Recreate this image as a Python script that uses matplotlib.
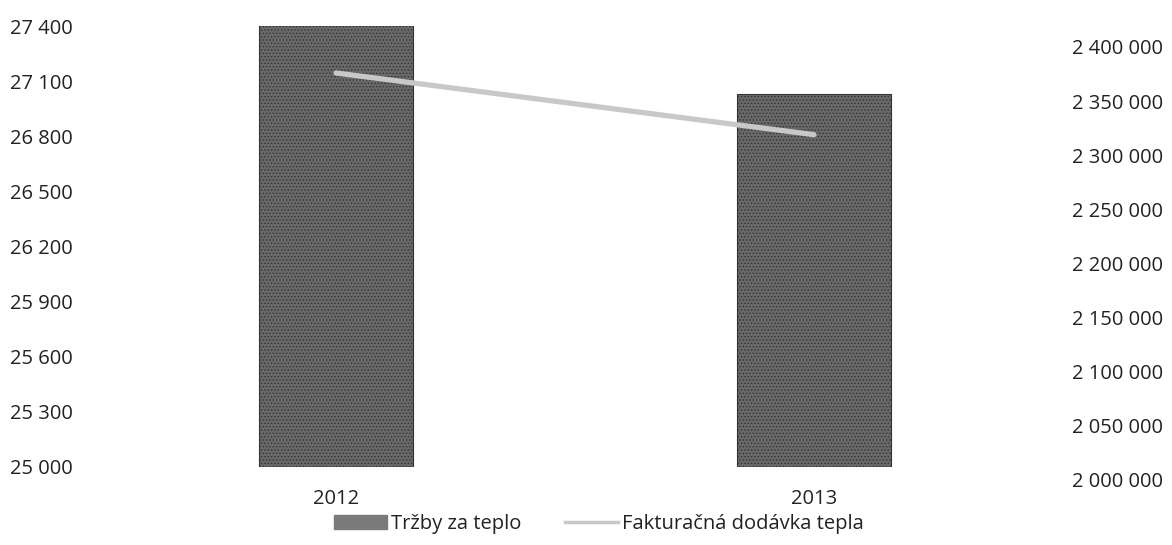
import matplotlib
matplotlib.use("Agg")
import matplotlib.pyplot as plt
from matplotlib.ticker import FuncFormatter
from matplotlib.lines import Line2D
from matplotlib.patches import Patch

years = ["2012", "2013"]
trzby = [27405, 27030]                 # Tržby za teplo (left axis)
dodavka = [2376000, 2319000]           # Fakturačná dodávka tepla (right axis)
left_ticks = [25000, 25300, 25600, 25900, 26200, 26500, 26800, 27100, 27400]
right_ticks = [2000000, 2050000, 2100000, 2150000, 2200000, 2250000, 2300000, 2350000, 2400000]

plt.rcParams['font.family'] = ['Open Sans', 'DejaVu Sans']
plt.rcParams['hatch.color'] = '#959595'
plt.rcParams['hatch.linewidth'] = 0.6

W, H = 1172, 545
fig = plt.figure(figsize=(W / 100, H / 100), dpi=100)

def fx(px):
    return px / W

def fy(py):
    return 1 - py / H

x0, x1 = 95, 1050
# category 0 -> 336 px, category 1 -> 814 px
span = 814 - 336
xlim = (-(336 - x0) / span, 1 + (x1 - 814) / span)

ax = fig.add_axes([fx(x0), fy(467), fx(x1 - x0), fy(26) - fy(467)])
ax2 = fig.add_axes([fx(x0), fy(480), fx(x1 - x0), fy(47) - fy(480)])
ax2.patch.set_alpha(0)

xs = list(range(len(years)))
ax.bar(xs, [v - left_ticks[0] for v in trzby], bottom=left_ticks[0], width=154 / span,
       color='#696969', edgecolor='#333333', linewidth=0.8, hatch='.....')
ax.set_xlim(*xlim)
ax.set_ylim(left_ticks[0], left_ticks[-1])
ax.set_yticks(left_ticks)
fmt = FuncFormatter(lambda v, p: f"{int(round(v)):,}".replace(",", " "))
ax.yaxis.set_major_formatter(fmt)
ax.set_xticks(xs)
ax.set_xticklabels(years)
ax.tick_params(axis='both', length=0, labelsize=14.5, colors='#222222')
ax.tick_params(axis='y', pad=16)
ax.tick_params(axis='x', pad=16)
for s in ax.spines.values():
    s.set_visible(False)

ax2.plot(xs, dodavka, color='#c8c8c8', linewidth=3.8, solid_capstyle='round')
ax2.set_xlim(*xlim)
ax2.set_ylim(right_ticks[0], right_ticks[-1])
ax2.yaxis.tick_right()
ax2.set_yticks(right_ticks)
ax2.yaxis.set_major_formatter(fmt)
ax2.set_xticks([])
ax2.tick_params(axis='y', length=0, labelsize=14.5, colors='#222222', pad=16)
for s in ax2.spines.values():
    s.set_visible(False)

handles = [Patch(facecolor='#7a7a7a', edgecolor='#7a7a7a', hatch='.....'),
           Line2D([0], [0], color='#c8c8c8', linewidth=2.5)]
fig.legend(handles, ["Tržby za teplo", "Fakturačná dodávka tepla"],
           loc='center', bbox_to_anchor=(fx(599), fy(524)), ncol=2, frameon=False,
           fontsize=14.5, handlelength=2.6, handleheight=0.7, handletextpad=0.2,
           columnspacing=2.2, labelcolor='#222222')

fig.savefig("out.png", dpi=100)
